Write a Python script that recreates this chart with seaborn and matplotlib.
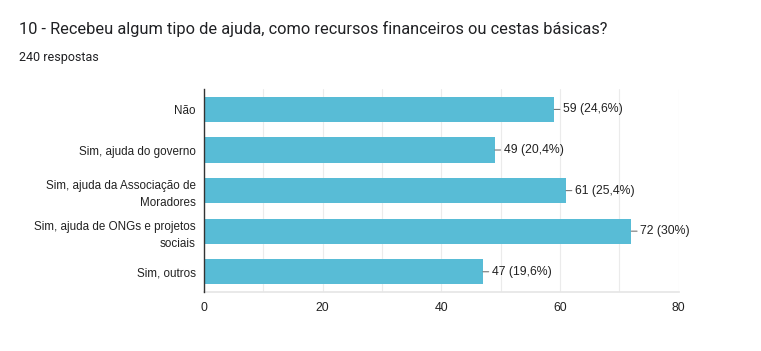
import pandas as pd
import numpy as np
from matplotlib import pyplot as plt
import seaborn as sns

categories = ["Não", "Sim, ajuda do governo", "Sim, ajuda da Associação de\nMoradores",
              "Sim, ajuda de ONGs e projetos\nsociais", "Sim, outros"]
counts = [59, 49, 61, 72, 47]
percents = ["24,6%", "20,4%", "25,4%", "30%", "19,6%"]
xticks = [0, 20, 40, 60, 80]

df = pd.DataFrame({"Resposta": categories, "Total": counts})

sns.set_theme(style="white")
plt.rcParams["font.family"] = ["Liberation Sans", "DejaVu Sans"]

fig = plt.figure(figsize=(7.61, 3.51), dpi=100)
ax = fig.add_axes([0.268, 0.168, 0.624, 0.578])

sns.barplot(data=df, y="Resposta", x="Total", color="#58bcd6", saturation=1,
            width=0.62, linewidth=0, ax=ax, zorder=3)

for i, (c, p) in enumerate(zip(counts, percents)):
    ax.annotate(f"{c} ({p})", xy=(c, i), xytext=(6.5, 0), textcoords="offset points",
                va="center", ha="left", fontsize=8.8, color="#222222",
                arrowprops=dict(arrowstyle="-", color="#777777", lw=0.8,
                                shrinkA=0, shrinkB=0))

ax.set_xlim(0, 80)
ax.set_ylim(4.5, -0.5)
ax.set_xticks(xticks)
ax.set_xticks(np.arange(0, 81, 10), minor=True)
ax.set_yticks(range(len(categories)))
ax.set_yticklabels(categories, multialignment="right", linespacing=1.55)
ax.grid(axis="x", which="both", color="#ebebeb", lw=0.8, zorder=0)
ax.set_xlabel("")
ax.set_ylabel("")
ax.tick_params(axis="both", which="both", length=0, labelsize=8.8, colors="#222222")
ax.tick_params(axis="y", labelsize=8.4, pad=5.8)
ax.tick_params(axis="x", pad=7)

for side in ["top", "right"]:
    ax.spines[side].set_visible(False)
ax.spines["bottom"].set_color("#e6e6e6")
ax.spines["left"].set_color("#333333")
ax.spines["left"].set_linewidth(1.0)
ax.spines["left"].set_zorder(5)

fig.text(19 / 761, 1 - 29 / 351, "10 - Recebeu algum tipo de ajuda, como recursos financeiros ou cestas básicas?",
         fontsize=11.8, family=["Roboto", "DejaVu Sans"], color="#202124", va="center")
fig.text(19 / 761, 1 - 57 / 351, "240 respostas",
         fontsize=9, family=["Roboto", "DejaVu Sans"], color="#202124", va="center")

fig.savefig("out.png", dpi=100)
